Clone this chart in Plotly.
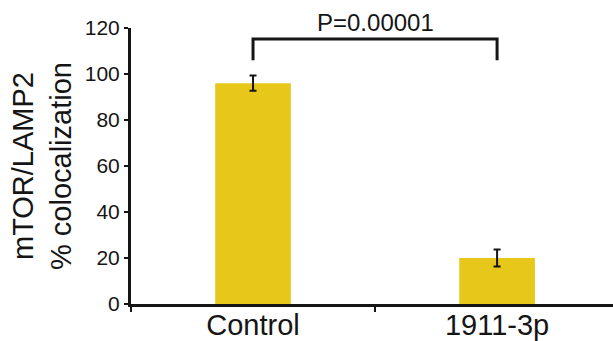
import plotly.graph_objects as go

categories = ["Control", "1911-3p"]
values = [96.0, 20.0]
errors = [3.3, 3.7]
bracket_low = 106.0
bracket_high = 115.2
p_label = "P=0.00001"
y_ticks = [0, 20, 40, 60, 80, 100, 120]
y_title = "mTOR/LAMP2<br>% colocalization"

FONT = "Liberation Sans, Arial, sans-serif"
INK = "#151515"
BAR = "#E6C71A"

fig = go.Figure()
fig.add_trace(go.Bar(
    x=categories, y=values, width=0.31,
    marker=dict(color=BAR, line=dict(width=0)),
    error_y=dict(type="data", array=errors, visible=True,
                 color=INK, thickness=2, width=3.5),
    showlegend=False, hoverinfo="skip",
))
fig.add_trace(go.Scatter(
    x=[categories[0], categories[0], categories[1], categories[1]],
    y=[bracket_low, bracket_high, bracket_high, bracket_low],
    mode="lines", line=dict(color=INK, width=3),
    showlegend=False, cliponaxis=False, hoverinfo="skip",
))
fig.add_annotation(
    x=0.5, y=bracket_high, xref="x", yref="y", text=p_label,
    showarrow=False, yanchor="bottom", yshift=1,
    font=dict(family=FONT, size=24, color=INK),
)
fig.add_annotation(
    x=(42 - 131) / 482, y=0.5, xref="paper", yref="paper",
    text=y_title, textangle=-90, showarrow=False,
    xanchor="center", yanchor="middle",
    font=dict(family=FONT, size=29, color=INK),
)

fig.update_layout(
    width=613, height=341,
    margin=dict(l=131, r=0, t=28, b=37),
    paper_bgcolor="white", plot_bgcolor="white",
    font=dict(family=FONT, color=INK),
    xaxis=dict(
        type="category", range=[-0.5, 1.475], automargin=False,
        showline=True, linecolor=INK, linewidth=3,
        ticks="outside", tickson="boundaries", ticklen=5, tickwidth=2, tickcolor=INK,
        tickfont=dict(size=29, family=FONT, color=INK),
        ticklabelstandoff=-7,
        showgrid=False, zeroline=False,
    ),
    yaxis=dict(
        range=[0, 120], tickvals=y_ticks, automargin=False,
        showline=True, linecolor=INK, linewidth=3,
        ticks="outside", ticklen=4, tickwidth=2, tickcolor=INK,
        tickfont=dict(size=21, family=FONT, color=INK),
        showgrid=False, zeroline=False,
    ),
)

fig.write_html(
    "out.html",
    config={"displayModeBar": False},
    post_script="document.body.style.margin='0';document.body.style.overflow='hidden';",
)
